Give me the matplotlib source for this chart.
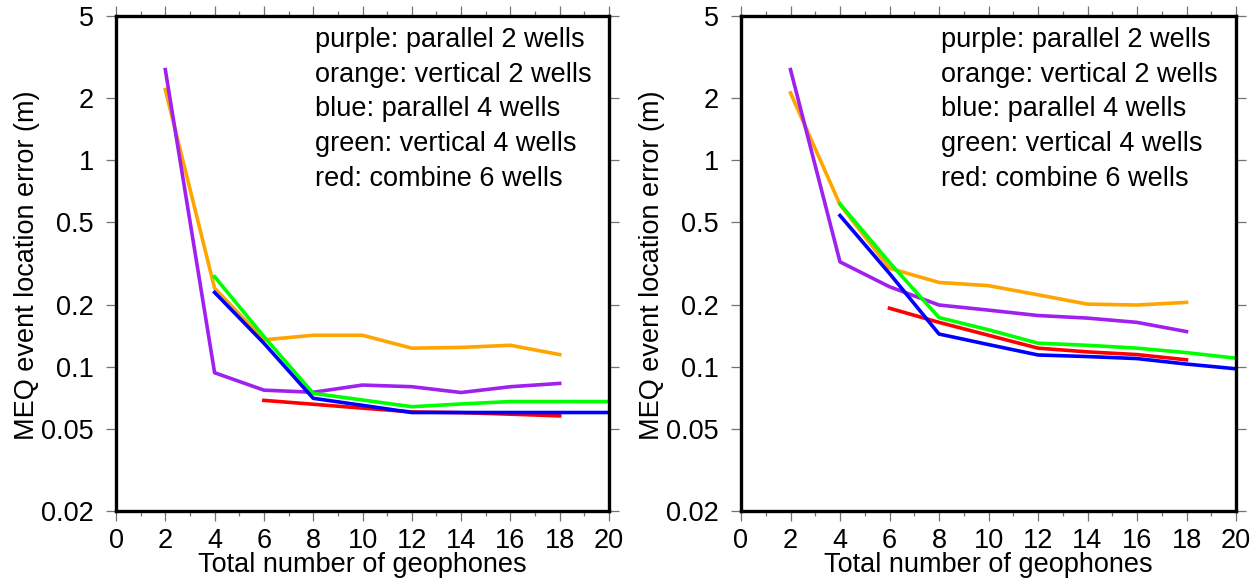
import matplotlib
matplotlib.use("Agg")
import matplotlib.pyplot as plt
from matplotlib.ticker import MultipleLocator, NullLocator

plt.rcParams['font.family'] = ['Liberation Sans', 'DejaVu Sans']

# number of geophones for each configuration
x_purple = [2, 4, 6, 8, 10, 12, 14, 16, 18]
x_orange = [2, 4, 6, 8, 10, 12, 14, 16, 18]
x_blue = [4, 6, 8, 10, 12, 14, 16, 18, 20]
x_green = [4, 6, 8, 10, 12, 14, 16, 18, 20]
x_red = [6, 8, 10, 12, 14, 16, 18]

# left panel location errors (m)
left_purple = [2.75, 0.0935, 0.077, 0.0752, 0.0815, 0.080, 0.075, 0.080, 0.083]
left_orange = [2.2, 0.24, 0.135, 0.142, 0.142, 0.123, 0.124, 0.127, 0.1145]
left_blue = [0.229, 0.13, 0.0703, 0.065, 0.060, 0.060, 0.060, 0.060, 0.060]
left_green = [0.273, 0.14, 0.0743, 0.069, 0.064, 0.066, 0.0678, 0.0678, 0.0678]
left_red = [0.0687, 0.0658, 0.063, 0.0604, 0.0599, 0.0589, 0.0578]

# right panel location errors (m)
right_purple = [2.75, 0.322, 0.244, 0.199, 0.188, 0.177, 0.172, 0.164, 0.148]
right_orange = [2.12, 0.61, 0.30, 0.256, 0.247, 0.223, 0.201, 0.199, 0.205]
right_blue = [0.54, 0.283, 0.144, 0.128, 0.114, 0.112, 0.1095, 0.103, 0.0977]
right_green = [0.615, 0.32, 0.173, 0.151, 0.130, 0.127, 0.123, 0.117, 0.110]
right_red = [0.192, 0.164, 0.142, 0.123, 0.118, 0.1145, 0.108]

legend_lines = ["purple: parallel 2 wells",
                "orange: vertical 2 wells",
                "blue: parallel 4 wells",
                "green: vertical 4 wells",
                "red: combine 6 wells"]

y_ticks = [0.02, 0.05, 0.1, 0.2, 0.5, 1, 2, 5]
y_tick_labels = ["0.02", "0.05", "0.1", "0.2", "0.5", "1", "2", "5"]

colors = {"purple": "#a020f0", "orange": "#ffa500", "blue": "#0000ff",
          "green": "#00ff00", "red": "#ff0000"}


def draw_panel(ax, purple, orange, blue, green, red):
    lw = 2.6
    ax.plot(x_orange, orange, color=colors["orange"], lw=lw)
    ax.plot(x_purple, purple, color=colors["purple"], lw=lw)
    ax.plot(x_red, red, color=colors["red"], lw=lw)
    ax.plot(x_green, green, color=colors["green"], lw=lw)
    ax.plot(x_blue, blue, color=colors["blue"], lw=lw)

    ax.set_yscale("log")
    ax.set_xlim(0, 20)
    ax.set_ylim(0.02, 5)
    ax.set_yticks(y_ticks)
    ax.set_yticklabels(y_tick_labels)
    ax.yaxis.set_minor_locator(NullLocator())
    ax.xaxis.set_major_locator(MultipleLocator(2))
    ax.xaxis.set_minor_locator(MultipleLocator(1))

    for spine in ax.spines.values():
        spine.set_linewidth(2.4)
    ax.tick_params(which="both", direction="out", top=True, right=True,
                   color="0.45", width=0.9, labelsize=19.5)
    ax.tick_params(which="major", length=7)
    ax.tick_params(which="minor", length=3.5)
    ax.tick_params(axis="x", which="major", pad=5)
    ax.tick_params(axis="y", which="major", pad=9)

    ax.set_xlabel("Total number of geophones", fontsize=19.5, labelpad=-1)

    for i, line in enumerate(legend_lines):
        ax.text(0.404, 0.952 - i * 0.0703, line, transform=ax.transAxes,
                fontsize=19.5, ha="left", va="center")


fig = plt.figure(figsize=(12.6, 5.86), dpi=100)
ax1 = fig.add_axes([116 / 1260, 75 / 586, 493 / 1260, 495 / 586])
ax2 = fig.add_axes([741 / 1260, 75 / 586, 495 / 1260, 495 / 586])

draw_panel(ax1, left_purple, left_orange, left_blue, left_green, left_red)
draw_panel(ax2, right_purple, right_orange, right_blue, right_green, right_red)

fig.text(27 / 1260, 1 - 265 / 586, "MEQ event location error (m)", rotation=90,
         fontsize=19.5, ha="center", va="center")
fig.text(652 / 1260, 1 - 265 / 586, "MEQ event location error (m)", rotation=90,
         fontsize=19.5, ha="center", va="center")

fig.savefig("out.png", dpi=100)
